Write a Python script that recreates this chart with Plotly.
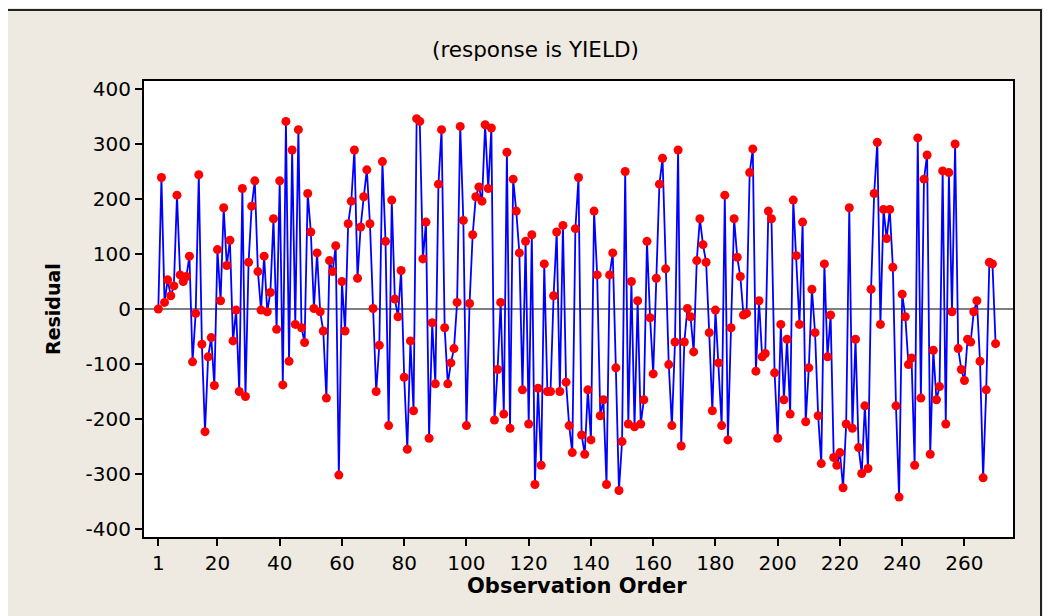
import plotly.graph_objects as go

residuals = [
    0, 239, 12, 53, 24, 42, 207, 62, 50, 59,
    96, -96, -8, 244, -64, -223, -87, -52, -139, 108,
    15, 184, 79, 125, -58, -2, -150, 219, -159, 85,
    187, 233, 68, -2, 96, -5, 30, 164, -37, 233,
    -138, 341, -95, 289, -28, 326, -34, -61, 210, 140,
    1, 102, -5, -40, -162, 88, 68, 115, -302, 50,
    -40, 155, 196, 289, 56, 149, 204, 253, 155, 1,
    -150, -66, 268, 123, -212, 198, 18, -14, 70, -124,
    -255, -58, -185, 346, 341, 91, 158, -235, -25, -136,
    227, 326, -34, -136, -98, -72, 12, 332, 161, -212,
    10, 135, 204, 222, 196, 335, 219, 329, -202, -110,
    12, -191, 285, -217, 236, 178, 102, -147, 123, -209,
    135, -319, -144, -284, 82, -150, -150, 24, 140, -150,
    152, -133, -212, -261, 146, 239, -229, -264, -147, -238,
    178, 62, -194, -165, -319, 62, 102, -107, -330, -241,
    250, -209, 50, -214, 15, -209, -165, 123, -16, -118,
    56, 227, 274, 73, -101, -212, -60, 289, -249, -60,
    1, -14, -78, 88, 164, 117, 85, -43, -185, -2,
    -98, -212, 207, -238, -34, 164, 94, 59, -11, -8,
    248, 291, -113, 15, -87, -81, 178, 164, -116, -235,
    -28, -165, -55, -191, 198, 97, -28, 158, -205, -107,
    36, -43, -194, -281, 82, -87, -11, -270, -284, -261,
    -325, -209, 184, -217, -55, -252, -299, -176, -290, 36,
    210, 303, -28, 181, 128, 181, 76, -176, -342, 27,
    -14, -101, -89, -284, 311, -162, 236, 280, -264, -75,
    -165, -141, 251, -209, 248, -5, 300, -72, -110, -130,
    -55, -60, -5, 15, -95, -307, -147, 85, 82, -63,
]
order = list(range(1, len(residuals) + 1))

x_ticks = [1, 20, 40, 60, 80, 100, 120, 140, 160, 180, 200, 220, 240, 260]
y_ticks = [400, 300, 200, 100, 0, -100, -200, -300, -400]

# the page body adds an 8px offset; lay out in screen pixels and subtract it
OFF = 8
W, H = 1051 - OFF, 616 - OFF
L, R, T, B = 144 - OFF, 1051 - 1013, 81 - OFF, 616 - 537
pw, ph = W - L - R, H - T - B

def px(sx):
    return (sx - OFF - L) / pw

def py(sy):
    return (H - B - (sy - OFF)) / ph

FONT = "DejaVu Sans"

fig = go.Figure()
fig.add_trace(go.Scatter(
    x=order, y=residuals, mode="lines+markers",
    line=dict(color="#0000FF", width=1.8),
    marker=dict(color="#FF0000", size=9, line=dict(width=0)),
    showlegend=False,
))

fig.update_layout(
    width=W, height=H,
    margin=dict(l=L, r=R, t=T, b=B),
    paper_bgcolor="#EEEAE1",
    plot_bgcolor="#FFFFFF",
    font=dict(family=FONT, size=20, color="#000000"),
    xaxis=dict(
        range=[-3.6, 275.6], tickvals=x_ticks, ticktext=[str(v) for v in x_ticks],
        showgrid=False, zeroline=False, showline=True, linecolor="#000000",
        linewidth=2, mirror=True, ticks="outside", ticklen=7, tickwidth=1.5,
        tickcolor="#000000", tickfont=dict(size=20),
    ),
    yaxis=dict(
        range=[-414.5, 414.5], tickvals=y_ticks, ticktext=[str(v) for v in y_ticks],
        showgrid=False, zeroline=False, showline=True, linecolor="#000000",
        linewidth=2, mirror=True, ticks="outside", ticklen=7, tickwidth=1.5,
        tickcolor="#000000", tickfont=dict(size=20),
    ),
    shapes=[
        dict(type="line", xref="paper", yref="y", x0=0, x1=1, y0=0, y1=0,
             line=dict(color="#555555", width=1.5), layer="below"),
        dict(type="rect", xref="paper", yref="paper",
             x0=px(7), x1=px(1041), y0=py(640), y1=py(10),
             line=dict(color="#222222", width=2), fillcolor="rgba(0,0,0,0)",
             layer="below"),
    ],
    annotations=[
        dict(text="(response is YIELD)", xref="paper", yref="paper",
             x=px(535), y=py(49), showarrow=False, xanchor="center",
             yanchor="middle", font=dict(size=21.5, family=FONT)),
        dict(text="<b>Observation Order</b>", xref="paper", yref="paper",
             x=px(577), y=py(586), showarrow=False, xanchor="center",
             yanchor="middle", font=dict(size=21, family=FONT)),
        dict(text="<b>Residual</b>", xref="paper", yref="paper",
             x=px(53), y=py(309), showarrow=False, xanchor="center",
             yanchor="middle", textangle=-90, font=dict(size=19, family=FONT)),
    ],
)

fig.write_html("out.html")
